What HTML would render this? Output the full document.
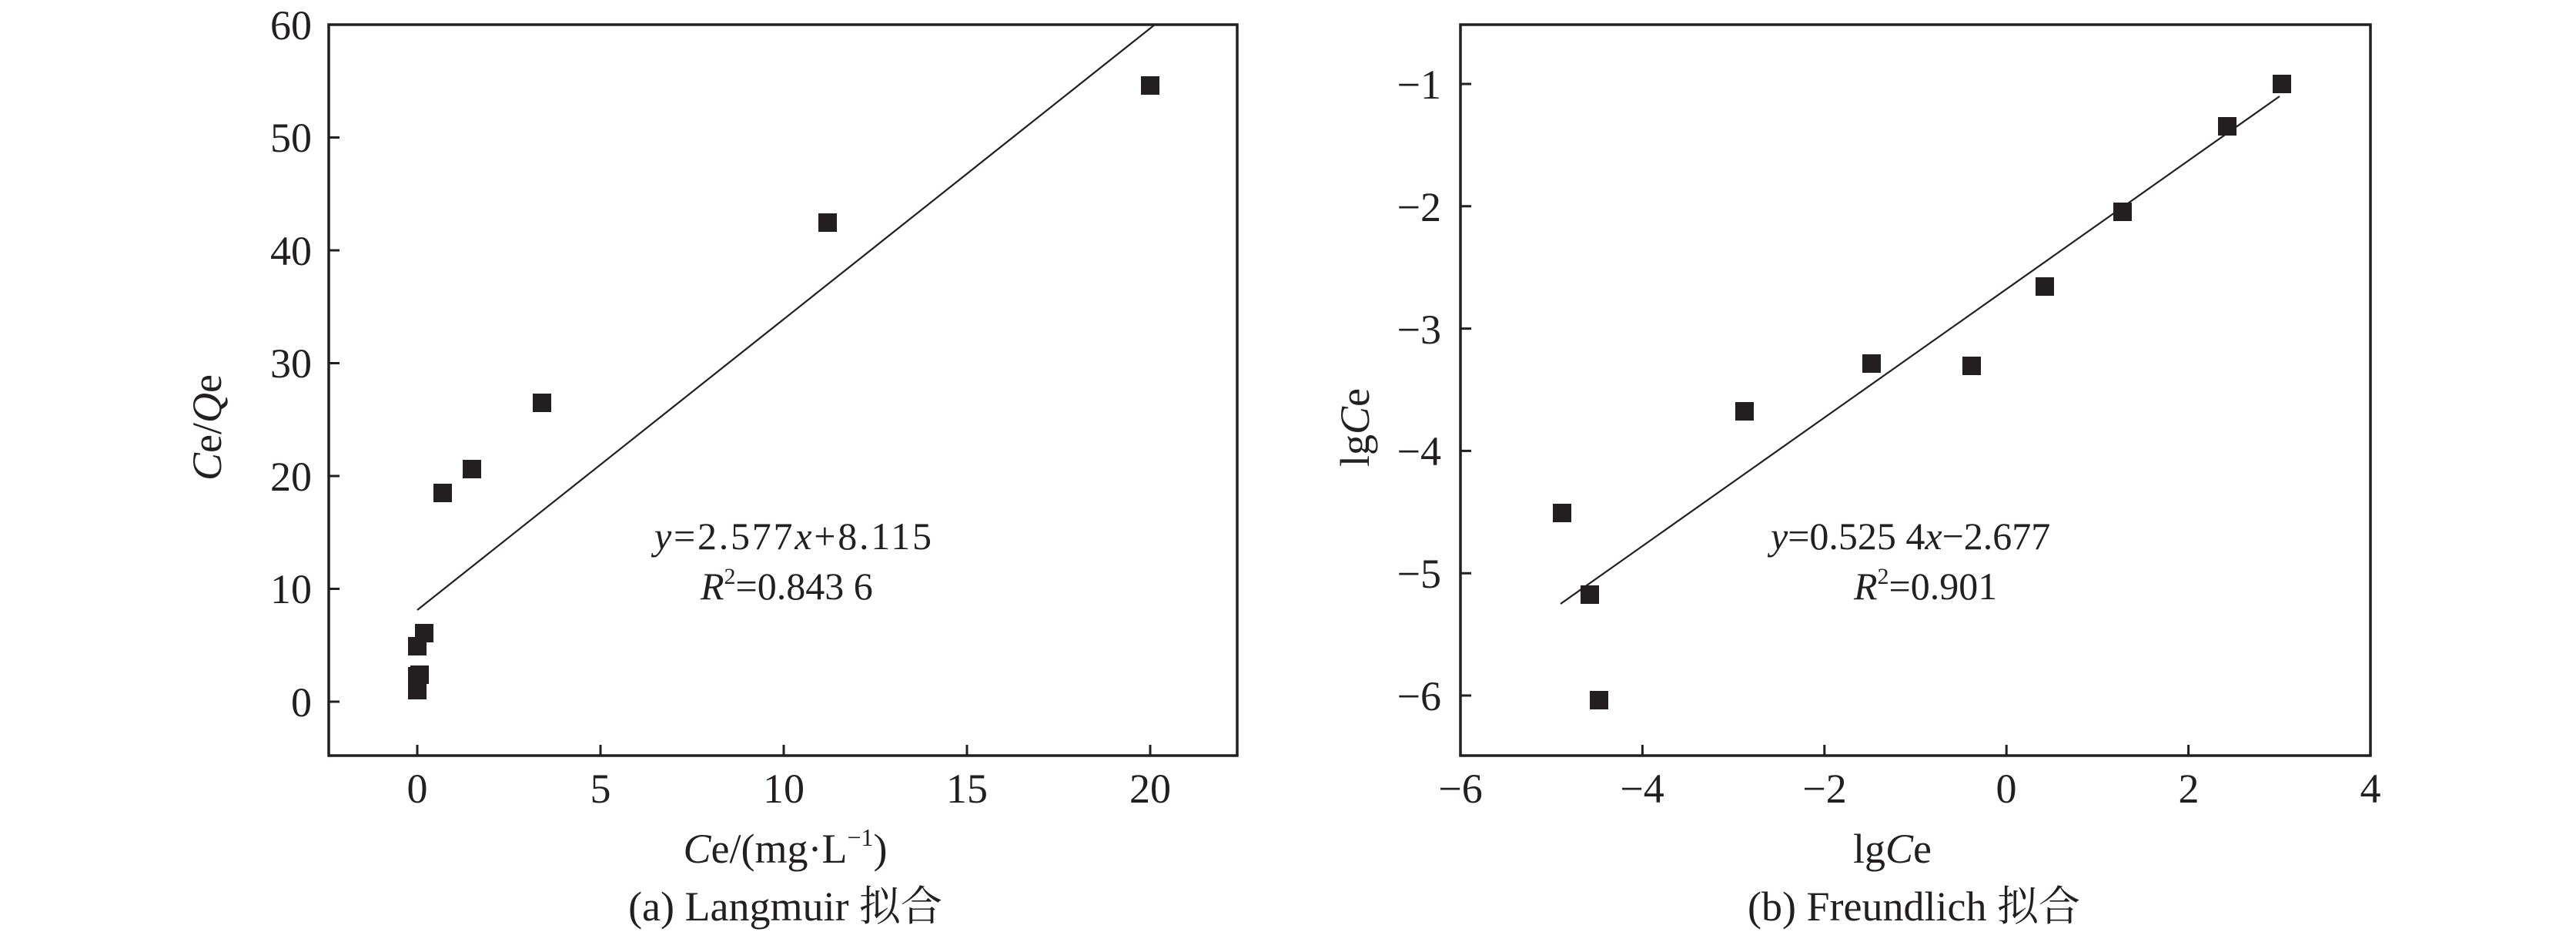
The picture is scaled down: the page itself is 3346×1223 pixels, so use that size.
<!DOCTYPE html>
<html><head><meta charset="utf-8"><style>
html,body{margin:0;padding:0;background:#fff}
svg{display:block}
text{font-family:"Liberation Serif","Noto Serif CJK SC",serif;fill:#231f20}
</style></head><body>
<svg width="3346" height="1223" viewBox="0 0 3346 1223" xmlns="http://www.w3.org/2000/svg">
<g stroke="#231f20" fill="none">
<rect x="427" y="32" width="1180" height="949" stroke-width="3.5"/>
<path stroke-width="3" d="M427 32h14M427 178.5h14M427 325h14M427 471.5h14M427 618h14M427 764.5h14M427 911h14"/>
<path stroke-width="3" d="M542 981v-14M780 981v-14M1018 981v-14M1256 981v-14M1494 981v-14"/>
<rect x="1897" y="32" width="1182" height="949" stroke-width="3.5"/>
<path stroke-width="3" d="M1897 109h14M1897 267.8h14M1897 426.6h14M1897 585.4h14M1897 744.2h14M1897 903h14"/>
<path stroke-width="3" d="M2133.4 981v-14M2369.8 981v-14M2606.2 981v-14M2842.6 981v-14"/>
<line x1="542" y1="792" x2="1500" y2="32" stroke-width="2.2"/>
<line x1="2027" y1="784" x2="2961" y2="125" stroke-width="2.2"/>
</g>
<g fill="#231f20">
<rect x="530" y="884" width="24" height="24"/>
<rect x="530" y="866" width="24" height="24"/>
<rect x="533" y="864" width="24" height="24"/>
<rect x="530" y="827" width="24" height="24"/>
<rect x="539" y="810" width="24" height="24"/>
<rect x="563" y="628" width="24" height="24"/>
<rect x="601" y="597" width="24" height="24"/>
<rect x="692" y="511" width="24" height="24"/>
<rect x="1063" y="277" width="24" height="24"/>
<rect x="1482" y="99" width="24" height="24"/>
<rect x="2017" y="654" width="24" height="24"/>
<rect x="2053" y="760" width="24" height="24"/>
<rect x="2065" y="897" width="24" height="24"/>
<rect x="2254" y="522" width="24" height="24"/>
<rect x="2419" y="460" width="24" height="24"/>
<rect x="2549" y="463" width="24" height="24"/>
<rect x="2644" y="360" width="24" height="24"/>
<rect x="2745" y="263" width="24" height="24"/>
<rect x="2881" y="152" width="24" height="24"/>
<rect x="2952" y="97" width="24" height="24"/>
</g>
<g font-size="54">
<g text-anchor="end">
<text x="405" y="51">60</text>
<text x="405" y="197">50</text>
<text x="405" y="344">40</text>
<text x="405" y="490">30</text>
<text x="405" y="637">20</text>
<text x="405" y="783">10</text>
<text x="405" y="930">0</text>
</g>
<g text-anchor="middle">
<text x="542" y="1042">0</text>
<text x="780" y="1042">5</text>
<text x="1018" y="1042">10</text>
<text x="1256" y="1042">15</text>
<text x="1494" y="1042">20</text>
</g>
<g text-anchor="end">
<text x="1872" y="128">−1</text>
<text x="1872" y="287">−2</text>
<text x="1872" y="446">−3</text>
<text x="1872" y="604">−4</text>
<text x="1872" y="763">−5</text>
<text x="1872" y="922">−6</text>
</g>
<g text-anchor="middle">
<text x="1897" y="1042">−6</text>
<text x="2133" y="1042">−4</text>
<text x="2370" y="1042">−2</text>
<text x="2606" y="1042">0</text>
<text x="2843" y="1042">2</text>
<text x="3079" y="1042">4</text>
</g>
</g>
<g font-size="50">
<text x="850" y="713" textLength="360"><tspan font-style="italic">y</tspan>=2.577<tspan font-style="italic">x</tspan>+8.115</text>
<text x="910" y="778"><tspan font-style="italic">R</tspan><tspan font-size="30" dy="-20">2</tspan><tspan dy="20">=0.843 6</tspan></text>
<text x="2300" y="713"><tspan font-style="italic">y</tspan>=0.525 4<tspan font-style="italic">x</tspan>−2.677</text>
<text x="2408" y="778"><tspan font-style="italic">R</tspan><tspan font-size="30" dy="-20">2</tspan><tspan dy="20">=0.901</tspan></text>
</g>
<g font-size="54" text-anchor="middle">
<text x="1020" y="1120"><tspan font-style="italic">C</tspan>e/(mg·L<tspan font-size="32" dy="-22">−1</tspan><tspan dy="22">)</tspan></text>
<text x="2458" y="1120">lg<tspan font-style="italic">C</tspan>e</text>
<text transform="translate(287,555) rotate(-90)"><tspan font-style="italic">C</tspan>e/<tspan font-style="italic">Q</tspan>e</text>
<text transform="translate(1778,555) rotate(-90)">lg<tspan font-style="italic">C</tspan>e</text>
<text x="1020" y="1195">(a) Langmuir 拟合</text>
<text x="2486" y="1195">(b) Freundlich 拟合</text>
</g>
</svg>
</body></html>
